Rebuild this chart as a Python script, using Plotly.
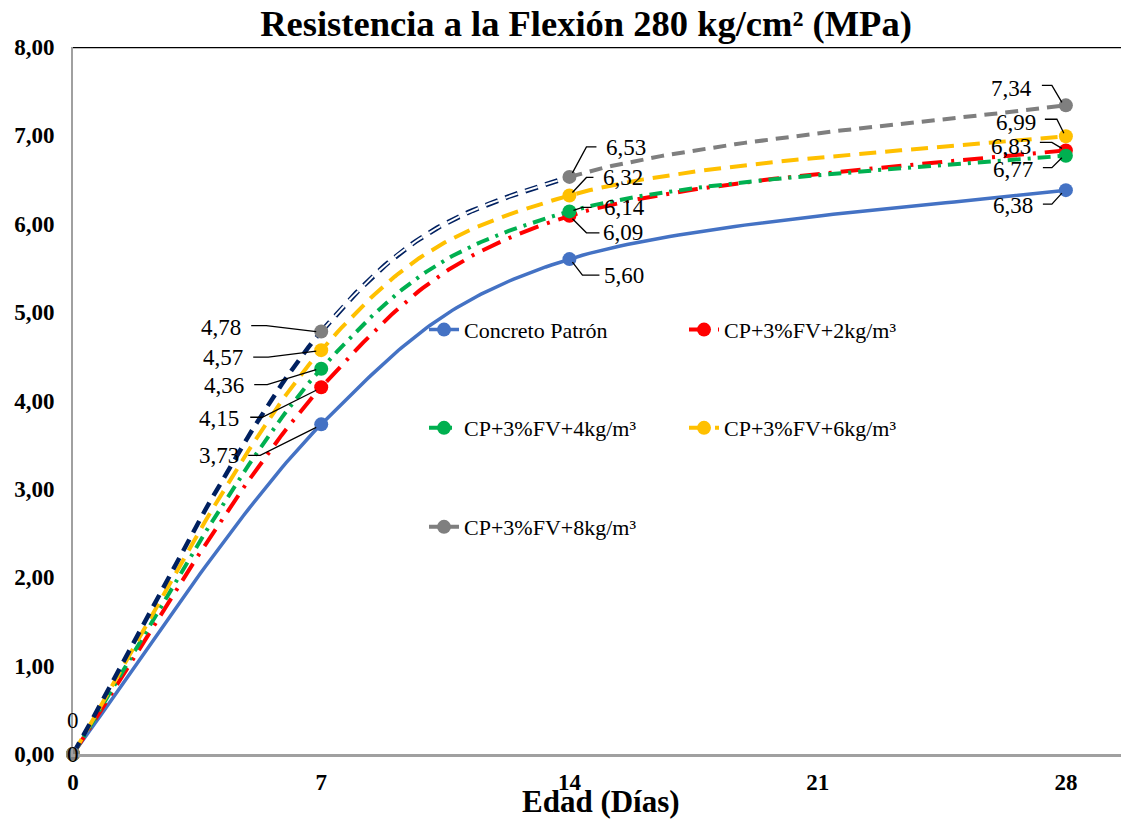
import plotly.graph_objects as go

# ---------------- data ----------------
dias = [0, 7, 14, 28]
x_ticks = [0, 7, 14, 21, 28]
x_ticktext = ["0", "7", "14", "21", "28"]
y_ticks = [0, 1, 2, 3, 4, 5, 6, 7, 8]
y_ticktext = ["0,00", "1,00", "2,00", "3,00", "4,00", "5,00", "6,00", "7,00", "8,00"]

patron = [0, 3.73, 5.60, 6.38]
fv2 = [0, 4.15, 6.09, 6.83]
fv4 = [0, 4.36, 6.14, 6.77]
fv6 = [0, 4.57, 6.32, 6.99]
fv8 = [0, 4.78, 6.53, 7.34]

names = ["Concreto Patrón", "CP+3%FV+2kg/m³", "CP+3%FV+4kg/m³",
         "CP+3%FV+6kg/m³", "CP+3%FV+8kg/m³"]
series = [patron, fv2, fv4, fv6, fv8]

title_text = "Resistencia a la Flexión 280 kg/cm² (MPa)"
x_title = "Edad (Días)"

# ---------------- layout / style ----------------
# page body has an 8px margin, so the figure is drawn 8px smaller and offset
W, H = 1121, 811
ML, MR, MT, MB = 65, 0, 39, 65
XMAX = 29.78
YMAX = 8
PW, PH = W - ML - MR, H - MT - MB
SX, SY = PW / XMAX, PH / YMAX
SERIF = "Liberation Serif, Times New Roman, serif"

colors = ["#4472C4", "#FF0000", "#00B050", "#FFC000", "#7F7F7F"]
navy = "#002060"
dashes = ["solid", "20px,9px,3px,9px", "13px,7px,3px,7px", "17px,9px", "13px,8px"]
widths = [3.5, 4, 4, 4, 4]

# label offsets (screen px: dx right, dy down) + leader elbow points, per series per point index 1..3
label_pos = [
    [(-102, 31, [(-73, 31), (-61, 31), (-5, 3)]),
     (55, 16, [(30, 16), (13, 16), (3, 3)]),
     (-53, 15, [(-23, 14), (-14, 14), (-4, 3)])],
    [(-102, 31, [(-71, 30), (-59, 30), (-5, 3)]),
     (54, 17, [(30, 17), (17, 17), (3, 3)]),
     (-55, -4, [(-26, -8), (-14, -8), (-4, -2)])],
    [(-97, 17, [(-67, 16), (-54, 16), (-5, 1)]),
     (55, -4, [(22, -4), (13, -4), (4, -1)]),
     (-53, 14, [(-23, 12), (-14, 12), (-4, 2)])],
    [(-98, 7, [(-68, 7), (-53, 7), (-5, 1)]),
     (54, -18, [(24, -18), (17, -18), (3, -3)]),
     (-50, -14, [(-21, -17), (-9, -17), (-2, -3)])],
    [(-100, -4, [(-70, -6), (-55, -6), (-5, 0)]),
     (57, -29, [(27, -30), (17, -30), (3, -4)]),
     (-54, -17, [(-24, -20), (-14, -20), (-4, -3)])],
]

legend_pos = [(0.3324, 0.600), (0.5786, 0.600), (0.3324, 0.461), (0.5786, 0.461), (0.3324, 0.321)]


def smooth_segments(xs, ys, n=60):
    """Excel-like smoothed line: cubic Bezier (Catmull-Rom, 1/6) in pixel space."""
    P = [(x * SX, y * SY) for x, y in zip(xs, ys)]
    m = len(P)
    segs = []
    for i in range(m - 1):
        p0 = P[max(i - 1, 0)]
        p1 = P[i]
        p2 = P[i + 1]
        p3 = P[min(i + 2, m - 1)]
        c1 = (p1[0] + (p2[0] - p0[0]) / 6, p1[1] + (p2[1] - p0[1]) / 6)
        c2 = (p2[0] - (p3[0] - p1[0]) / 6, p2[1] - (p3[1] - p1[1]) / 6)
        sx, sy = [], []
        for k in range(n + 1):
            t = k / n
            u = 1 - t
            bx = u ** 3 * p1[0] + 3 * u * u * t * c1[0] + 3 * u * t * t * c2[0] + t ** 3 * p2[0]
            by = u ** 3 * p1[1] + 3 * u * u * t * c1[1] + 3 * u * t * t * c2[1] + t ** 3 * p2[1]
            sx.append(bx / SX)
            sy.append(by / SY)
        segs.append((sx, sy))
    return segs


def join(segs):
    xs, ys = [], []
    for i, (sx, sy) in enumerate(segs):
        if i > 0:
            sx, sy = sx[1:], sy[1:]
        xs += sx
        ys += sy
    return xs, ys


fig = go.Figure()

for i, (name, vals) in enumerate(zip(names, series)):
    segs = smooth_segments(dias, vals)
    if i < 4:
        cx, cy = join(segs)
        fig.add_trace(go.Scatter(x=cx, y=cy, mode="lines", showlegend=False, hoverinfo="skip",
                                 line=dict(color=colors[i], width=widths[i], dash=dashes[i])))
    else:
        # first segment: navy dashed
        fig.add_trace(go.Scatter(x=segs[0][0], y=segs[0][1], mode="lines", showlegend=False,
                                 hoverinfo="skip", line=dict(color=navy, width=4.5, dash="13px,8px")))
        # second segment: navy hollow dashes
        fig.add_trace(go.Scatter(x=segs[1][0], y=segs[1][1], mode="lines", showlegend=False,
                                 hoverinfo="skip", line=dict(color=navy, width=5, dash="13px,8px")))
        fig.add_trace(go.Scatter(x=segs[1][0], y=segs[1][1], mode="lines", showlegend=False,
                                 hoverinfo="skip", line=dict(color="white", width=2, dash="13px,8px")))
        # last segment: gray dashes
        cx, cy = join(segs[2:])
        fig.add_trace(go.Scatter(x=cx, y=cy, mode="lines", showlegend=False, hoverinfo="skip",
                                 line=dict(color=colors[i], width=widths[i], dash=dashes[i])))
    fig.add_trace(go.Scatter(x=dias, y=vals, mode="markers", showlegend=False, cliponaxis=False,
                             marker=dict(color=colors[i], size=14, line=dict(width=0))))
    # legend-only entry
    lg = "legend" if i == 0 else f"legend{i + 1}"
    fig.add_trace(go.Scatter(x=[None], y=[None], mode="lines+markers", name=name, legend=lg,
                             line=dict(color=colors[i], width=widths[i], dash=dashes[i]),
                             marker=dict(color=colors[i], size=14)))

annotations = []
shapes = []
for i, vals in enumerate(series):
    for j in range(1, 4):
        dx, dy, pts = label_pos[i][j - 1]
        annotations.append(dict(x=dias[j], y=vals[j], xref="x", yref="y",
                                text=f"{vals[j]:.2f}".replace(".", ","), showarrow=False,
                                xshift=dx, yshift=-dy, xanchor="center", yanchor="middle",
                                font=dict(family=SERIF, size=23, color="black")))
        path = "M " + " L ".join(f"{px},{-py}" for px, py in pts)
        shapes.append(dict(type="path", xref="x", yref="y", xsizemode="pixel", ysizemode="pixel",
                           xanchor=dias[j], yanchor=vals[j], path=path,
                           line=dict(color="black", width=1.3)))

# origin labels
for ys in (34, 0):
    annotations.append(dict(x=dias[0], y=patron[0], xref="x", yref="y", text="0", showarrow=False,
                            yshift=ys, xanchor="center", yanchor="middle",
                            font=dict(family=SERIF, size=23, color="black")))

# x axis title
annotations.append(dict(x=0.5, y=0, xref="paper", yref="paper", text=f"<b>{x_title}</b>",
                        showarrow=False, yshift=-47, xanchor="center", yanchor="middle",
                        font=dict(family=SERIF, size=31, color="black")))

# top border line
shapes.append(dict(type="line", xref="paper", yref="y", x0=0, x1=1, y0=YMAX, y1=YMAX,
                   line=dict(color="black", width=2.5)))

layout_legends = {}
for k, (lx, ly) in enumerate(legend_pos):
    key = "legend" if k == 0 else f"legend{k + 1}"
    layout_legends[key] = dict(x=lx, y=ly, xanchor="left", yanchor="middle",
                               bgcolor="rgba(0,0,0,0)",
                               font=dict(family=SERIF, size=22, color="black"))

fig.update_layout(
    width=W, height=H,
    margin=dict(l=ML, r=MR, t=MT, b=MB, autoexpand=False),
    paper_bgcolor="white", plot_bgcolor="white",
    title=dict(text=f"<b>{title_text}</b>", x=(586 - 8) / W, xref="container", xanchor="center",
               y=1 - 15 / H, yref="container", yanchor="middle",
               font=dict(family=SERIF, size=36.5, color="black")),
    xaxis=dict(range=[0, XMAX], tickvals=x_ticks, ticktext=x_ticktext, showgrid=False,
               zeroline=False, showline=True, linecolor="#A0A0A0", linewidth=2.5,
               ticks="", ticklabelstandoff=6, automargin=False,
               tickfont=dict(family=SERIF, size=23, color="black", weight="bold")),
    yaxis=dict(range=[0, YMAX], tickvals=y_ticks, ticktext=y_ticktext, showgrid=False,
               zeroline=False, showline=True, linecolor="#A0A0A0", linewidth=2,
               ticks="", ticklabelstandoff=12, automargin=False,
               tickfont=dict(family=SERIF, size=23, color="black", weight="bold")),
    annotations=annotations,
    shapes=shapes,
    **layout_legends,
)

fig.write_html("out.html")
